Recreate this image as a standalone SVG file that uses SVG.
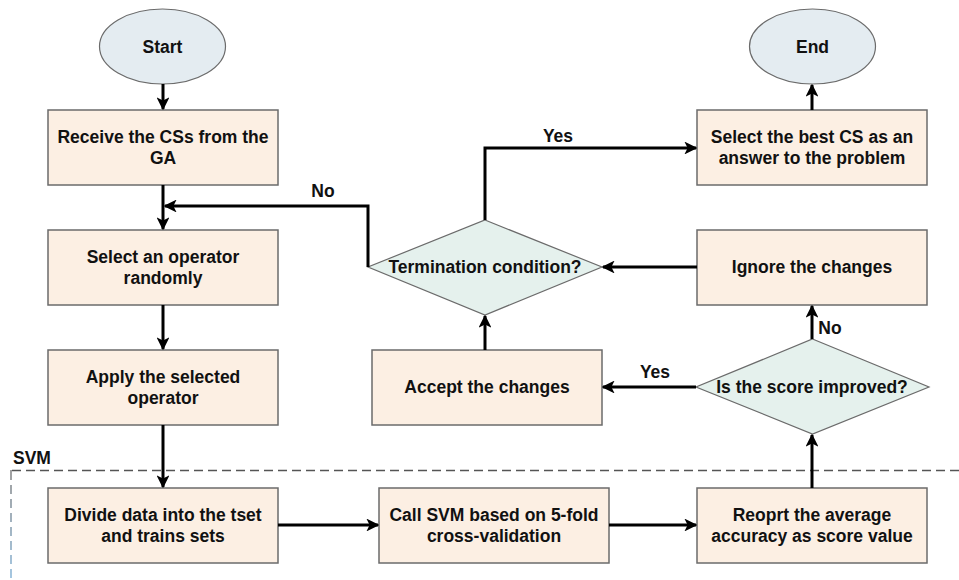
<svg xmlns="http://www.w3.org/2000/svg" width="959" height="580" viewBox="0 0 959 580">
<style>
.box{fill:#fcefe3;stroke:#6b6b6b;stroke-width:1.5}
.ell{fill:#e4ecf1;stroke:#6b6b6b;stroke-width:1.2}
.dia{fill:#e5f1ed;stroke:#6b6b6b;stroke-width:1.2}
text{font-family:"Liberation Sans",Arial,sans-serif;font-weight:bold;font-size:17.5px;fill:#111;text-anchor:middle}
.c{fill:none;stroke:#000;stroke-width:3}
</style>
<defs>
<marker id="ah" viewBox="0 0 10 10" refX="9" refY="5" markerWidth="4.3" markerHeight="4.3" markerUnits="strokeWidth" orient="auto">
<path d="M0,0 L10,5 L0,10 L2.5,5 Z" fill="#000"/>
</marker>
<linearGradient id="lg" x1="0" y1="0" x2="0" y2="1">
<stop offset="0" stop-color="#777"/>
<stop offset="1" stop-color="#7fb0d6"/>
</linearGradient>
</defs>
<rect x="0" y="0" width="959" height="580" fill="#fff"/>
<g id="svm-region">
<path d="M959,470.5 H11" fill="none" stroke="#555" stroke-width="1.4" stroke-dasharray="9,5"/>
<rect x="10.3" y="470" width="1.4" height="110" fill="url(#lg)" />
<path d="M11,471 V580" fill="none" stroke="#fff" stroke-width="2" stroke-dasharray="0,9,5,0"/>
<text x="13" y="464" style="text-anchor:start">SVM</text>
</g>
<g id="start"><ellipse class="ell" cx="162.5" cy="46.5" rx="63" ry="37.5"/><text x="162.5" y="53">Start</text></g>
<g id="end"><ellipse class="ell" cx="812.5" cy="46.5" rx="63" ry="37.5"/><text x="812.5" y="53">End</text></g>
<g id="receive"><rect class="box" x="48" y="110" width="230" height="75"/><text x="163" y="143">Receive the CSs from the</text><text x="163" y="164">GA</text></g>
<g id="select-op"><rect class="box" x="48" y="230" width="230" height="75"/><text x="163" y="263">Select an operator</text><text x="163" y="284">randomly</text></g>
<g id="apply"><rect class="box" x="48" y="350" width="230" height="75"/><text x="163" y="383">Apply the selected</text><text x="163" y="404">operator</text></g>
<g id="divide"><rect class="box" x="48" y="488" width="230" height="75"/><text x="163" y="521">Divide data into the tset</text><text x="163" y="542">and trains sets</text></g>
<g id="call-svm"><rect class="box" x="379" y="488" width="230" height="75"/><text x="494" y="521">Call SVM based on 5-fold</text><text x="494" y="542">cross-validation</text></g>
<g id="report"><rect class="box" x="697" y="488" width="230" height="75"/><text x="812" y="521">Reoprt the average</text><text x="812" y="542">accuracy as score value</text></g>
<g id="accept"><rect class="box" x="372" y="350" width="230" height="75"/><text x="487" y="393">Accept the changes</text></g>
<g id="ignore"><rect class="box" x="697" y="230" width="230" height="75"/><text x="812" y="273">Ignore the changes</text></g>
<g id="select-best"><rect class="box" x="697" y="110" width="230" height="75"/><text x="812" y="143">Select the best CS as an</text><text x="812" y="164">answer to the problem</text></g>
<g id="score"><polygon class="dia" points="812.5,339 929,387 812.5,434 696,387"/><text x="812" y="393">Is the score improved?</text></g>
<g id="termination"><polygon class="dia" points="485,220 602,267 485,315 368,267"/><text x="485" y="273">Termination condition?</text></g>
<g id="connectors">
<path class="c" marker-end="url(#ah)" d="M163,84 V109"/>
<path class="c" marker-end="url(#ah)" d="M163,185 V229"/>
<path class="c" marker-end="url(#ah)" d="M368,267 V206 H165"/>
<path class="c" marker-end="url(#ah)" d="M163,305 V349"/>
<path class="c" marker-end="url(#ah)" d="M163,425 V487"/>
<path class="c" marker-end="url(#ah)" d="M278,525 H378"/>
<path class="c" marker-end="url(#ah)" d="M609,525 H696"/>
<path class="c" marker-end="url(#ah)" d="M812,488 V435"/>
<path class="c" marker-end="url(#ah)" d="M812,339 V306"/>
<path class="c" marker-end="url(#ah)" d="M696,387 H603"/>
<path class="c" marker-end="url(#ah)" d="M697,267 H603"/>
<path class="c" marker-end="url(#ah)" d="M485,350 V316"/>
<path class="c" marker-end="url(#ah)" d="M485,220 V148 H696"/>
<path class="c" marker-end="url(#ah)" d="M812,110 V85"/>
<text x="323" y="197">No</text>
<text x="558" y="142">Yes</text>
<text x="655" y="378">Yes</text>
<text x="830" y="334">No</text>
</g>
</svg>
